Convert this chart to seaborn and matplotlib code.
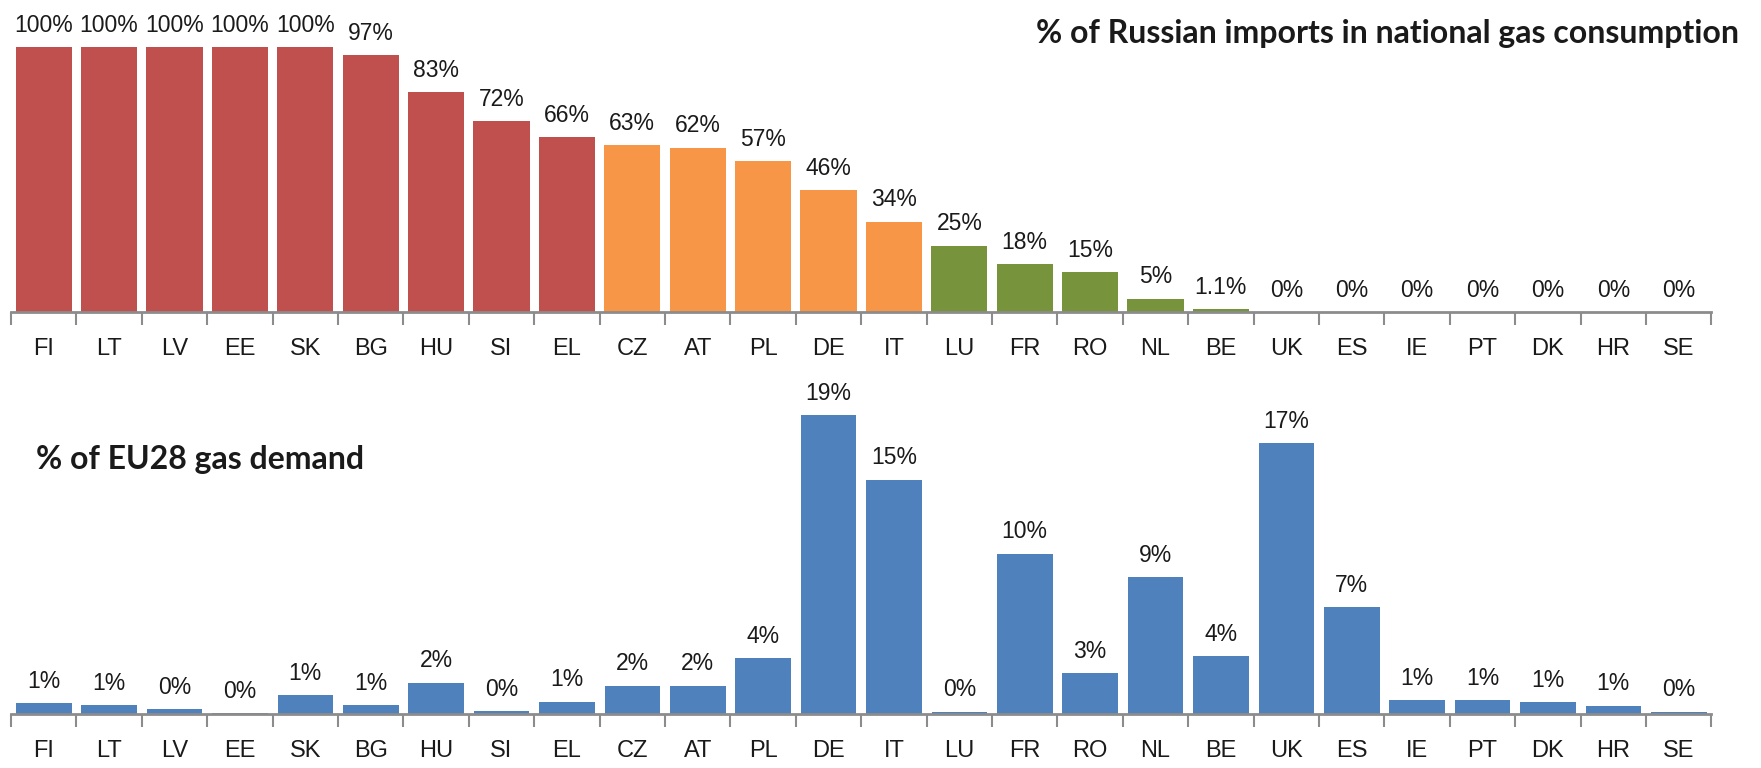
import matplotlib
matplotlib.use("Agg")
import matplotlib.pyplot as plt
import seaborn as sns
import numpy as np
from matplotlib.ticker import FixedLocator

countries = ["FI", "LT", "LV", "EE", "SK", "BG", "HU", "SI", "EL", "CZ", "AT", "PL", "DE",
             "IT", "LU", "FR", "RO", "NL", "BE", "UK", "ES", "IE", "PT", "DK", "HR", "SE"]
russian_share = [100, 100, 100, 100, 100, 97, 83, 72, 66, 63, 62, 57, 46, 34, 25, 18, 15, 5,
                 1.1, 0, 0, 0, 0, 0, 0, 0]
dependency_group = ["high"] * 9 + ["medium"] * 5 + ["low"] * 5 + ["none"] * 7
eu_demand_share = [0.68, 0.57, 0.3, 0.05, 1.2, 0.57, 2.0, 0.2, 0.78, 1.8, 1.8, 3.55, 19.0,
                   14.9, 0.15, 10.2, 2.6, 8.7, 3.7, 17.2, 6.8, 0.9, 0.9, 0.76, 0.53, 0.15]

top_title = "% of Russian imports in national gas consumption"
bottom_title = "% of EU28 gas demand"

group_palette = {"high": "#C0504D", "medium": "#F79646", "low": "#77933C", "none": "#77933C"}
blue = "#4F81BD"
axis_grey = "#8C8C8C"
num_font = ["Liberation Sans Narrow", "Liberation Sans", "DejaVu Sans"]
title_font = ["Lato", "DejaVu Sans"]

sns.set_theme(style="white")
plt.rcParams["font.family"] = num_font

fig = plt.figure(figsize=(17.61, 7.68), dpi=100)
ax1 = fig.add_axes([0.00625, 0.594, 0.9656, 0.406])
ax2 = fig.add_axes([0.00625, 0.0703, 0.9656, 0.461])

sns.barplot(x=countries, y=russian_share, hue=dependency_group, palette=group_palette,
            dodge=False, width=0.86, legend=False, ax=ax1, saturation=1, edgecolor="none")
sns.barplot(x=countries, y=eu_demand_share, color=blue, width=0.85, ax=ax2,
            saturation=1, edgecolor="none")

n = len(countries)
for ax, ytop in ((ax1, 117.7), (ax2, 22.5)):
    ax.set_xlim(-0.5, n - 0.5)
    ax.set_ylim(0, ytop)
    ax.set_yticks([])
    ax.set_xlabel("")
    ax.set_ylabel("")
    for s in ("top", "right", "left"):
        ax.spines[s].set_visible(False)
    ax.spines["bottom"].set_color(axis_grey)
    ax.spines["bottom"].set_linewidth(2)
    ax.set_xticks(range(n))
    ax.set_xticklabels(countries, fontsize=17, family=num_font, color="#1a1a1a")
    ax.tick_params(axis="x", which="major", length=0, pad=19)
    ax.xaxis.set_minor_locator(FixedLocator(np.arange(-0.5, n, 1.0)))
    ax.tick_params(axis="x", which="minor", length=9, width=1.5, color=axis_grey,
                   direction="out", bottom=True)
    ax.set_facecolor("white")

for i, v in enumerate(russian_share):
    ax1.annotate(f"{v:g}%", (i, v), xytext=(0, 11), textcoords="offset points",
                 ha="center", va="baseline", fontsize=16.5, family=num_font, color="#1a1a1a")
for i, v in enumerate(eu_demand_share):
    ax2.annotate(f"{int(round(v))}%", (i, v), xytext=(0, 11), textcoords="offset points",
                 ha="center", va="baseline", fontsize=16.5, family=num_font, color="#1a1a1a")

fig.text(1739 / 1761, 1 - 34 / 768, top_title, ha="right", va="center", fontsize=23,
         fontweight="bold", family=title_font, color="#1a1a1a")
fig.text(36 / 1761, 1 - 460 / 768, bottom_title, ha="left", va="center", fontsize=23,
         fontweight="bold", family=title_font, color="#1a1a1a")

fig.savefig("out.png", dpi=100, facecolor="white")
